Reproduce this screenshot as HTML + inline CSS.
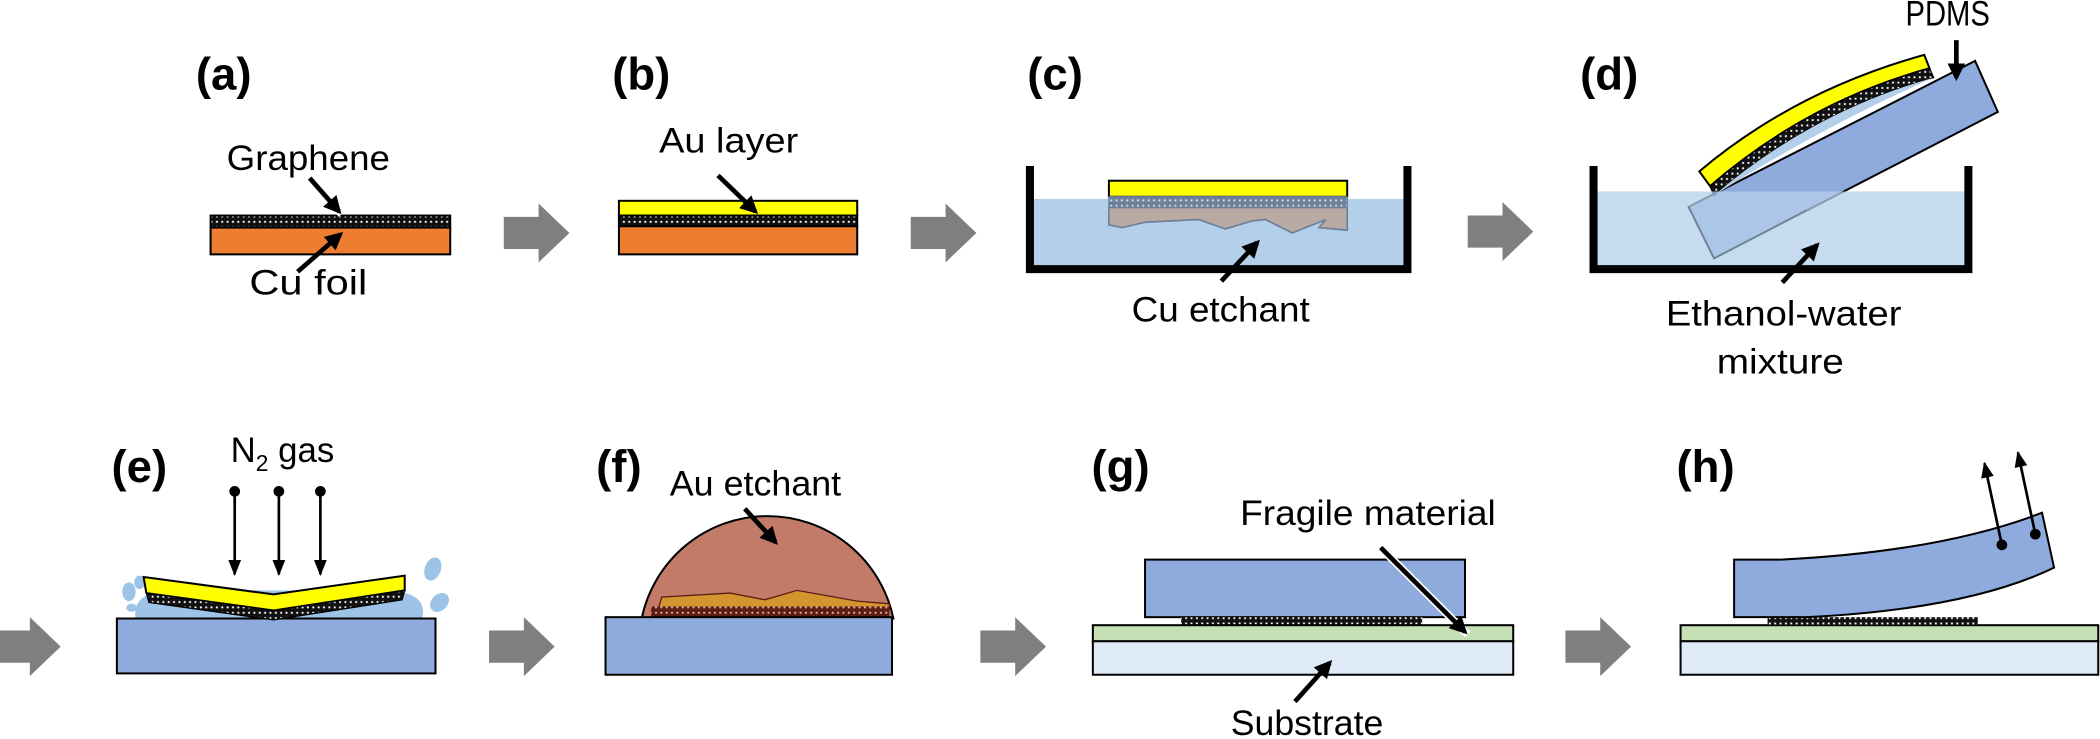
<!DOCTYPE html>
<html><head><meta charset="utf-8"><style>
html,body{margin:0;padding:0;background:#fff;}
svg{display:block;}
text{font-family:"Liberation Sans",sans-serif;}
.lb{font-weight:bold;font-size:34px;}
.t{font-size:26px;}
</style></head><body>
<svg width="2100" height="739" viewBox="0 0 1568 552" xmlns="http://www.w3.org/2000/svg">
<defs>
<pattern id="gr" width="4" height="4" patternUnits="userSpaceOnUse">
<rect width="4" height="4" fill="#111"/><rect x="1" y="1" width="1.4" height="1.4" fill="#fff"/>
</pattern>
<pattern id="grb" width="4" height="4" patternUnits="userSpaceOnUse">
<rect width="4" height="4" fill="#5a1f12"/><rect x="1" y="1" width="1.4" height="1.4" fill="#e8b8a8"/>
</pattern>
<pattern id="grw" width="4" height="4" patternUnits="userSpaceOnUse">
<rect width="4" height="4" fill="#6f8198"/><rect x="1" y="1" width="1.4" height="1.4" fill="#d8e4f0"/>
</pattern>
<marker id="ah" viewBox="0 0 10 10" refX="8" refY="5" markerWidth="3.8" markerHeight="3.8" orient="auto">
<path d="M0,0 L10,5 L0,10 z" fill="#000"/>
</marker>
<marker id="ah2" viewBox="0 0 10 10" refX="9" refY="5" markerWidth="6" markerHeight="6" orient="auto">
<path d="M0,1 L10,5 L0,9 z" fill="#000"/>
</marker>
<marker id="dot" viewBox="0 0 10 10" refX="5" refY="5" markerWidth="5" markerHeight="5">
<circle cx="5" cy="5" r="4" fill="#000"/>
</marker>
<g id="garr"><path d="M0,10 H26 V0 L49,22 L26,44 V34 H0 z" fill="#7f7f7f"/></g>
</defs>

<use href="#garr" x="376" y="152"/>
<use href="#garr" x="680" y="152"/>
<use href="#garr" x="1096" y="151"/>
<use href="#garr" x="-4" y="461"/>
<use href="#garr" x="365" y="461"/>
<use href="#garr" x="732" y="461"/>
<use href="#garr" x="1169" y="461"/>

<!-- (a) -->
<text class="lb" x="146" y="67">(a)</text>
<text class="t" x="169" y="127" textLength="122" lengthAdjust="spacingAndGlyphs">Graphene</text>
<rect x="157" y="161" width="179" height="9" fill="url(#gr)" stroke="#000" stroke-width="1.5"/>
<rect x="157" y="170" width="179" height="20" fill="#ed7d31" stroke="#000" stroke-width="1.5"/>
<line x1="231" y1="133" x2="255" y2="160" stroke="#fff" stroke-width="6"/>
<line x1="231" y1="133" x2="253" y2="158" stroke="#000" stroke-width="3.5" marker-end="url(#ah)"/>
<line x1="222" y1="203" x2="254" y2="175" stroke="#000" stroke-width="3.5" marker-end="url(#ah)"/>
<text class="t" x="186" y="220" textLength="88" lengthAdjust="spacingAndGlyphs">Cu foil</text>

<!-- (b) -->
<text class="lb" x="457" y="67">(b)</text>
<text class="t" x="492" y="114" textLength="104" lengthAdjust="spacingAndGlyphs">Au layer</text>
<rect x="462" y="150" width="178" height="11" fill="#ffff00" stroke="#000" stroke-width="1.5"/>
<rect x="462" y="161" width="178" height="8" fill="url(#gr)" stroke="#000" stroke-width="1.5"/>
<rect x="462" y="169" width="178" height="21" fill="#ed7d31" stroke="#000" stroke-width="1.5"/>
<line x1="536" y1="131" x2="564" y2="158" stroke="#000" stroke-width="3.5" marker-end="url(#ah)"/>

<!-- (c) -->
<text class="lb" x="767" y="67">(c)</text>
<rect x="769" y="148.6" width="282" height="51" fill="#b4cfe9"/>
<rect x="828" y="135" width="178" height="12" fill="#ffff00" stroke="#000" stroke-width="1.5"/>
<rect x="828" y="147" width="178" height="8" fill="url(#grw)" stroke="#6f8198" stroke-width="1"/>
<path d="M828,155 H1006 V172 L985,170 L990,164 L965,174 L945,164 L935,165 L915,171 L895,164 L855,166 L838,170 L828,168 z" fill="#b9aaa4" stroke="#6f8198" stroke-width="1.3"/>
<path d="M769,124 V201 H1051 V124" fill="none" stroke="#000" stroke-width="6"/>
<line x1="912" y1="210" x2="939" y2="181" stroke="#000" stroke-width="3.5" marker-end="url(#ah)"/>
<text class="t" x="845" y="240" textLength="133" lengthAdjust="spacingAndGlyphs">Cu etchant</text>

<!-- (d) -->
<text class="lb" x="1180" y="67">(d)</text>
<text class="t" x="1423" y="19" textLength="63" lengthAdjust="spacingAndGlyphs">PDMS</text>
<polygon points="1261,154.5 1280,193 1492,83.6 1475,45.5" fill="#8faadc" stroke="#000" stroke-width="1.5"/>
<path d="M1269,128 Q1340,68 1437,41 L1441,51 Q1350,76 1277,139 z" fill="#ffff00" stroke="#000" stroke-width="1.5"/>
<path d="M1277,139 Q1350,76 1441,51 L1444,58 Q1352,84 1280,146 z" fill="url(#gr)" stroke="#000" stroke-width="1"/>
<path d="M1280,146 Q1352,84 1444,58 Q1360,95 1280,146 z" fill="#b4cfe9"/>
<rect x="1190" y="143" width="280" height="58" fill="#b4cfe9" fill-opacity="0.75"/>
<path d="M1261,154.5 L1280,193 L1349,157" fill="none" stroke="#6f8198" stroke-width="1.2"/>
<path d="M1190,124 V201 H1470 V124" fill="none" stroke="#000" stroke-width="6"/>
<line x1="1461" y1="30" x2="1461" y2="58" stroke="#000" stroke-width="3.5" marker-end="url(#ah)"/>
<line x1="1331" y1="211" x2="1357" y2="183" stroke="#000" stroke-width="3.5" marker-end="url(#ah)"/>
<text class="t" x="1244" y="243" textLength="176" lengthAdjust="spacingAndGlyphs">Ethanol-water</text>
<text class="t" x="1282" y="279" textLength="95" lengthAdjust="spacingAndGlyphs">mixture</text>

<!-- (e) -->
<text class="lb" x="83" y="360">(e)</text>
<text class="t" x="172" y="345">N<tspan font-size="17" dy="7">2</tspan><tspan dy="-7"> gas</tspan></text>
<path d="M101,462 Q98,443 125,441 L290,441 Q320,443 315,462 z" fill="#9dc3e6"/>
<ellipse cx="96" cy="442" rx="5" ry="7" fill="#9dc3e6"/>
<ellipse cx="104" cy="435" rx="4" ry="5" fill="#9dc3e6"/>
<ellipse cx="98" cy="454" rx="4" ry="3" fill="#9dc3e6"/>
<ellipse cx="323" cy="425" rx="6" ry="9" fill="#9dc3e6" transform="rotate(20 323 425)"/>
<ellipse cx="328" cy="450" rx="6" ry="8" fill="#9dc3e6" transform="rotate(45 328 450)"/>
<rect x="87" y="462" width="238" height="41" fill="#8faadc" stroke="#000" stroke-width="1.5"/>
<path d="M107,431 L204,444 L302,430 L302,441 L204,456 L109,443 z" fill="#ffff00" stroke="#000" stroke-width="1.5"/>
<path d="M109,443 L204,456 L302,441 L300,448 L204,463 L111,450 z" fill="url(#gr)" stroke="#000" stroke-width="1"/>
<line x1="175" y1="367" x2="175" y2="429" stroke="#000" stroke-width="2" marker-start="url(#dot)" marker-end="url(#ah2)"/>
<line x1="208" y1="367" x2="208" y2="429" stroke="#000" stroke-width="2" marker-start="url(#dot)" marker-end="url(#ah2)"/>
<line x1="239" y1="367" x2="239" y2="429" stroke="#000" stroke-width="2" marker-start="url(#dot)" marker-end="url(#ah2)"/>

<!-- (f) -->
<text class="lb" x="445" y="360">(f)</text>
<text class="t" x="500" y="370" textLength="128" lengthAdjust="spacingAndGlyphs">Au etchant</text>
<path d="M479,462 A96,96 0 0 1 667,462 z" fill="#c27b68" stroke="#000" stroke-width="1.5"/>
<path d="M492,453 L494,446 L545,443 L571,448 L595,441 L640,449 L664,451 L664,455 L492,455 z" fill="#d4952e" stroke="#5a1f12" stroke-width="1"/>
<rect x="486" y="453" width="178" height="8" fill="url(#grb)"/>
<rect x="452" y="461" width="214" height="43" fill="#8faadc" stroke="#000" stroke-width="1.5"/>
<line x1="556" y1="380" x2="579" y2="405" stroke="#000" stroke-width="3.5" marker-end="url(#ah)"/>

<!-- (g) -->
<text class="lb" x="815" y="360">(g)</text>
<text class="t" x="926" y="392" textLength="191" lengthAdjust="spacingAndGlyphs">Fragile material</text>
<rect x="855" y="418" width="239" height="43" fill="#8faadc" stroke="#000" stroke-width="1.5"/>
<rect x="882" y="461" width="180" height="6" fill="url(#gr)"/>
<rect x="816" y="467" width="314" height="12" fill="#c5e0b4" stroke="#000" stroke-width="1.5"/>
<rect x="816" y="479" width="314" height="25" fill="#deebf7" stroke="#000" stroke-width="1.5"/>
<line x1="1031" y1="409" x2="1096" y2="474" stroke="#fff" stroke-width="6"/>
<line x1="1031" y1="409" x2="1094" y2="472" stroke="#000" stroke-width="3.5" marker-end="url(#ah)"/>
<line x1="967" y1="524" x2="993" y2="495" stroke="#000" stroke-width="3.5" marker-end="url(#ah)"/>
<text class="t" x="919" y="549" textLength="114" lengthAdjust="spacingAndGlyphs">Substrate</text>

<!-- (h) -->
<text class="lb" x="1252" y="360">(h)</text>
<rect x="1255" y="467" width="312" height="12" fill="#c5e0b4" stroke="#000" stroke-width="1.5"/>
<rect x="1255" y="479" width="312" height="25" fill="#deebf7" stroke="#000" stroke-width="1.5"/>
<rect x="1320" y="461" width="157" height="6" fill="url(#gr)"/>
<path d="M1295,418 L1330,418 Q1450,412 1525,383 L1534,424 Q1470,455 1350,461 L1295,461 z" fill="#8faadc" stroke="#000" stroke-width="1.5"/>
<line x1="1495" y1="407" x2="1482" y2="346" stroke="#000" stroke-width="2" marker-start="url(#dot)" marker-end="url(#ah2)"/>
<line x1="1520" y1="399" x2="1507" y2="338" stroke="#000" stroke-width="2" marker-start="url(#dot)" marker-end="url(#ah2)"/>
</svg>
</body></html>
